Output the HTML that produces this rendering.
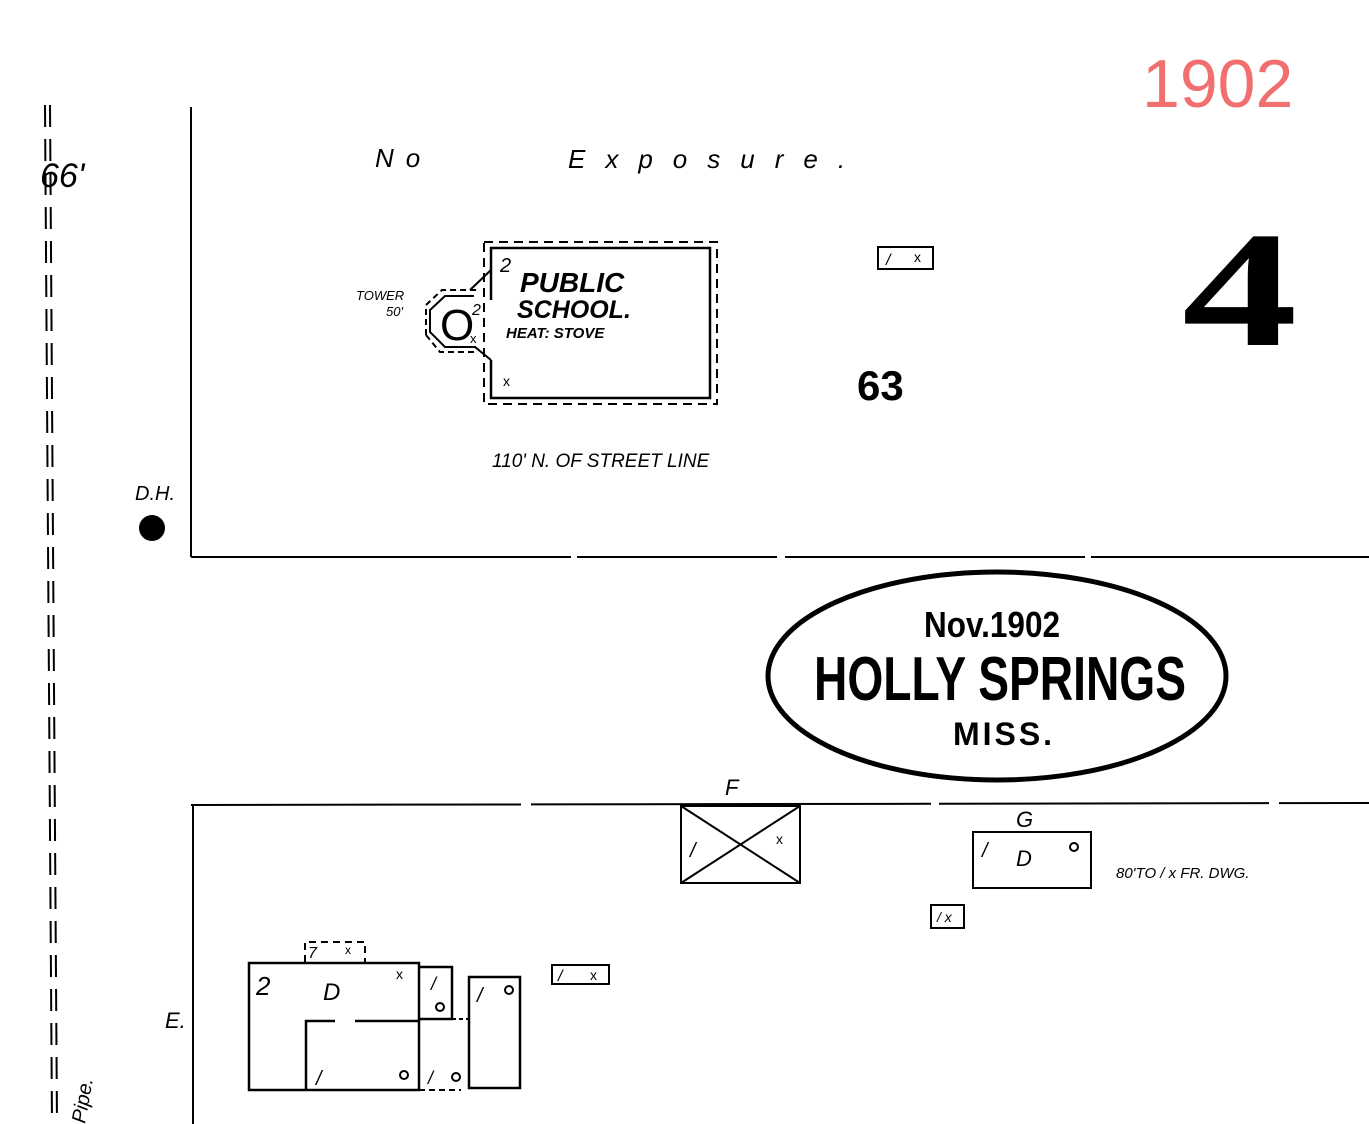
<!DOCTYPE html>
<html><head><meta charset="utf-8"><style>
html,body{margin:0;padding:0;background:#fff;}
svg{display:block;}
text{font-family:"Liberation Sans",sans-serif;fill:#000;}
</style></head><body>
<svg width="1369" height="1124" viewBox="0 0 1369 1124" xmlns="http://www.w3.org/2000/svg">
<rect width="1369" height="1124" fill="#fff"/>
<text x="1142" y="107" font-size="68" style="fill:#f26f6f">1902</text>
<line x1="45" y1="105" x2="52" y2="1124" stroke="#000" stroke-width="2" stroke-dasharray="22,12"/>
<line x1="50" y1="105" x2="57" y2="1124" stroke="#000" stroke-width="2" stroke-dasharray="22,12"/>
<text x="40" y="187" font-size="34" font-style="italic">66'</text>
<text x="0" y="0" font-size="20" font-style="italic" transform="translate(85,1124) rotate(-80)">Pipe.</text>
<line x1="191" y1="107" x2="191" y2="557" stroke="#000" stroke-width="2"/>
<line x1="191" y1="557" x2="1369" y2="557" stroke="#000" stroke-width="2" stroke-dasharray="380,6,200,8,300,6"/>
<line x1="191" y1="805" x2="1369" y2="803" stroke="#000" stroke-width="2" stroke-dasharray="330,10,400,8"/>
<line x1="193" y1="805" x2="193" y2="1124" stroke="#000" stroke-width="2"/>
<text x="375" y="167" font-size="26" font-style="italic" letter-spacing="12">No</text>
<text x="568" y="168" font-size="26" font-style="italic" letter-spacing="20">Exposure.</text>
<rect x="484" y="242" width="233" height="162" fill="none" stroke="#000" stroke-width="2" stroke-dasharray="9,6"/>
<path d="M491,300 V248 H710 V398 H491 V360" fill="none" stroke="#000" stroke-width="2.5"/>
<path d="M491,270 L470,290 M491,360 L475,347 H445 L430,332 V310 L445,296 H474" fill="none" stroke="#000" stroke-width="2"/>
<path d="M426,335 V305 L442,290 H478 M426,335 L440,352 H475" fill="none" stroke="#000" stroke-width="2" stroke-dasharray="6,4"/>
<text x="440" y="340" font-size="44">O</text>
<text x="472" y="315" font-size="16" font-style="italic">2</text>
<text x="500" y="272" font-size="20" font-style="italic">2</text>
<text x="520" y="292" font-size="28" font-weight="bold" font-style="italic">PUBLIC</text>
<text x="517" y="318" font-size="25" font-weight="bold" font-style="italic">SCHOOL.</text>
<text x="506" y="338" font-size="15" font-style="italic" font-weight="bold">HEAT: STOVE</text>
<text x="470" y="343" font-size="13">x</text>
<text x="503" y="386" font-size="14">x</text>
<text x="356" y="300" font-size="13" font-style="italic">TOWER</text>
<text x="386" y="316" font-size="13" font-style="italic">50'</text>
<text x="492" y="467" font-size="19" font-style="italic">110' N. OF STREET LINE</text>
<rect x="878" y="247" width="55" height="22" fill="none" stroke="#000" stroke-width="2"/>
<text x="886" y="265" font-size="16" font-style="italic">/</text>
<text x="914" y="262" font-size="14">x</text>
<text x="857" y="400" font-size="42" font-weight="bold">63</text>
<text x="0" y="0" font-size="165" font-weight="bold" style="font-family:'Liberation Serif',serif" transform="translate(1182,345) scale(1.4,1)">4</text>
<text x="135" y="500" font-size="20" font-style="italic">D.H.</text>
<circle cx="152" cy="528" r="13" fill="#000"/>
<ellipse cx="997" cy="676" rx="229" ry="104" fill="#fff" stroke="#000" stroke-width="5"/>
<text x="992" y="637" font-size="36" text-anchor="middle" font-weight="bold" textLength="136" lengthAdjust="spacingAndGlyphs">Nov.1902</text>
<text x="1000" y="700" font-size="62" font-weight="bold" text-anchor="middle" textLength="372" lengthAdjust="spacingAndGlyphs">HOLLY SPRINGS</text>
<text x="1004" y="745" font-size="32" font-weight="bold" text-anchor="middle" letter-spacing="3">MISS.</text>
<text x="725" y="795" font-size="22" font-style="italic">F</text>
<rect x="681" y="806" width="119" height="77" fill="none" stroke="#000" stroke-width="2"/>
<line x1="681" y1="806" x2="800" y2="883" stroke="#000" stroke-width="2"/>
<line x1="800" y1="806" x2="681" y2="883" stroke="#000" stroke-width="2"/>
<text x="690" y="857" font-size="20" font-style="italic">/</text>
<text x="776" y="844" font-size="14">x</text>
<text x="1016" y="827" font-size="22" font-style="italic">G</text>
<rect x="973" y="832" width="118" height="56" fill="none" stroke="#000" stroke-width="2"/>
<text x="982" y="857" font-size="20" font-style="italic">/</text>
<text x="1016" y="866" font-size="22" font-style="italic">D</text>
<circle cx="1074" cy="847" r="4" fill="none" stroke="#000" stroke-width="2"/>
<text x="1116" y="878" font-size="15" font-style="italic">80'TO / x  FR. DWG.</text>
<rect x="931" y="905" width="33" height="23" fill="none" stroke="#000" stroke-width="2"/>
<text x="937" y="922" font-size="14" font-style="italic">/ x</text>
<rect x="552" y="965" width="57" height="19" fill="none" stroke="#000" stroke-width="2"/>
<text x="558" y="981" font-size="16" font-style="italic">/</text>
<text x="590" y="980" font-size="14">x</text>
<text x="165" y="1028" font-size="22" font-style="italic">E.</text>
<path d="M305,962 V942 H365 V962" fill="none" stroke="#000" stroke-width="2" stroke-dasharray="7,5"/>
<text x="308" y="958" font-size="16" font-style="italic">7</text>
<text x="345" y="954" font-size="12">x</text>
<path d="M249,963 H419 V1090 H249 Z" fill="none" stroke="#000" stroke-width="2.5"/>
<path d="M306,1090 V1021 H335 M355,1021 H419" fill="none" stroke="#000" stroke-width="2.5"/>
<text x="256" y="995" font-size="26" font-style="italic">2</text>
<text x="323" y="1000" font-size="24" font-style="italic">D</text>
<text x="396" y="979" font-size="14">x</text>
<text x="316" y="1085" font-size="20" font-style="italic">/</text>
<circle cx="404" cy="1075" r="4" fill="none" stroke="#000" stroke-width="2"/>
<path d="M419,967 H452 V1019 H419" fill="none" stroke="#000" stroke-width="2.5"/>
<line x1="452" y1="1019" x2="468" y2="1019" stroke="#000" stroke-width="2" stroke-dasharray="4,3"/>
<line x1="419" y1="1090" x2="461" y2="1090" stroke="#000" stroke-width="2" stroke-dasharray="6,4"/>
<text x="431" y="990" font-size="18" font-style="italic">/</text>
<circle cx="440" cy="1007" r="4" fill="none" stroke="#000" stroke-width="2"/>
<text x="428" y="1084" font-size="18" font-style="italic">/</text>
<circle cx="456" cy="1077" r="4" fill="none" stroke="#000" stroke-width="2"/>
<rect x="469" y="977" width="51" height="111" fill="none" stroke="#000" stroke-width="2.5"/>
<text x="477" y="1002" font-size="20" font-style="italic">/</text>
<circle cx="509" cy="990" r="4" fill="none" stroke="#000" stroke-width="2"/>
</svg>
</body></html>
